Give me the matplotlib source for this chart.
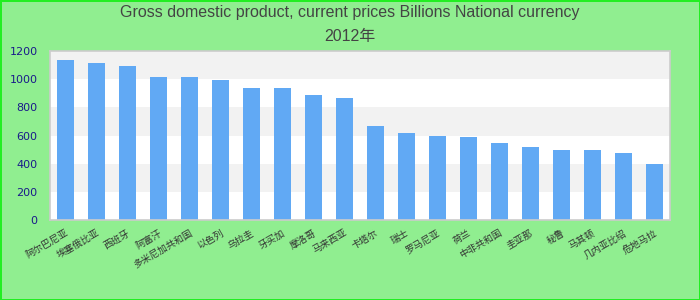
import matplotlib
matplotlib.use('Agg')
from matplotlib import pyplot as plt

# Chart data
countries = ['阿尔巴尼亚', '埃塞俄比亚', '西班牙', '阿富汗', '多米尼加共和国',
             '以色列', '乌拉圭', '牙买加', '摩洛哥', '马来西亚',
             '卡塔尔', '瑞士', '罗马尼亚', '荷兰', '中非共和国',
             '圭亚那', '秘鲁', '马其顿', '几内亚比绍', '危地马拉']
gdp_2012 = [1136, 1115, 1094, 1016, 1016, 994, 937, 937, 888, 866,
            668, 618, 597, 590, 547, 518, 497, 497, 476, 398]
y_ticks = [0, 200, 400, 600, 800, 1000, 1200]
title_text = 'Gross domestic product, current prices Billions National currency\n2012年'

BG = '#90ee90'
BAR = '#61a9f4'
CJK = ['DejaVu Sans', 'Noto Sans CJK SC']

fig = plt.figure(figsize=(7, 3), dpi=100, facecolor=BG)
fig.patch.set_edgecolor('#22ee22')
fig.patch.set_linewidth(2)
ax = fig.add_axes([50 / 700, 80 / 300, 620 / 700, 169 / 300])
ax.set_facecolor('white')

# alternating horizontal bands
for i in range(len(y_ticks) - 1):
    if i % 2 == 1:
        ax.axhspan(y_ticks[i], y_ticks[i + 1], color='#f2f2f2', zorder=0, lw=0)

x = list(range(len(countries)))
ax.bar(x, gdp_2012, width=0.55, color=BAR, zorder=2)

ax.set_xlim(-0.5, len(countries) - 0.5)
ax.set_ylim(0, 1200)
ax.set_yticks(y_ticks)
ax.tick_params(axis='y', length=0, labelsize=8, labelcolor='#1a1a8a', pad=9)
ax.tick_params(axis='x', length=0, labelsize=6.8, labelcolor='#333333', pad=6)
ax.set_xticks(x)
ax.set_xticklabels(countries, rotation=30, ha='right', rotation_mode='anchor', family=CJK)
for s in ax.spines.values():
    s.set_color('#cccccc')
    s.set_linewidth(1.2)

fig.text(0.5, 0.985, title_text, ha='center', va='top', fontsize=11.5, color='#444444',
         family=['Liberation Sans', 'Noto Sans CJK SC'], linespacing=1.75)

fig.savefig('out.png', facecolor=BG, edgecolor=fig.get_edgecolor())
